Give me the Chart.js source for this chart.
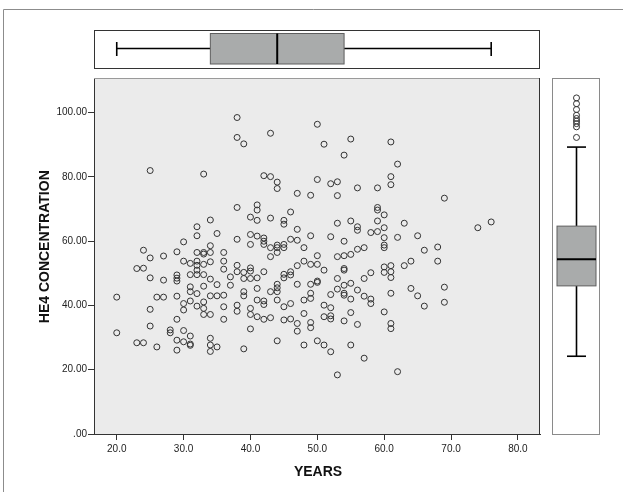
<!DOCTYPE html>
<html>
<head>
<meta charset="utf-8">
<script src="https://cdn.jsdelivr.net/npm/chart.js@4.4.1/dist/chart.umd.min.js"></script>
<style>
html,body{margin:0;padding:0;background:#fff;}
canvas{display:block;}
</style>
</head>
<body>
<canvas id="c" width="623" height="492"></canvas>
<script>
// ---- data ----
const years = [
  // upper cloud (HE4 > 65)
  38,38,39,43,50,25,33,42,43,44, 44,47,49,50,38,41,41,46,40,41, 43,45,34,45,51,55,61,54,62,61, 61,52,53,56,59,53,69,59,59,60, 59,55,53,63,76,
  // ages 20-38
  32,35,32,30,38,24,25,27,29,32, 33,33,34,34,36,23,24,25,27,29, 29,29,30,31,32,32,32,32,33,33,
  31,34,36,36,38,38,37,37,34,35, 33,31,31,32,34,35,36,20,26,27, 29,30,30,31,32,33,33,33,34,36,
  36,38,38,25,29,25,20,28,28,30, 31,23,24,26,29,30,31,31,34,34, 35,29,34,
  // ages 39-58
  47,56,56,58,40,41,42,42,42,40, 43,44,44,45,45,46,47,49,48,43, 44,52,54,56,57,53,54,55,50,48,
  49,50,47,51,54,54,58,57,53,40, 40,42,39,41,45,45,46,46,47,49, 50,50,40,39,41,44,44,44,43,48,
  49,49,52,53,54,54,54,55,55,56, 57,58,58,39,39,41,42,42,44,40, 40,41,42,43,45,46,45,46,47,47,
  48,49,49,51,52,51,52,52,54,55, 56,40,44,48,50,51,55,39,
  // ages 59+ and lowest points
  59,60,74,60,62,65,60,60,66,68, 64,63,68,60,60,61,61,61,64,65, 61,69,69,66,60,61,61,53,62,57, 52
];
const he4 = [
  98.5,92.3,90.3,93.6,96.4,82.0,80.9,80.4,80.1,78.4, 76.4,74.9,74.3,79.2,70.5,71.3,69.7,69.1,67.5,66.5,
  67.2,66.5,66.6,65.3,90.2,91.8,90.9,86.8,84.0,80.1, 77.6,77.9,78.5,76.6,76.6,74.2,73.4,70.5,69.7,68.2,
  66.3,66.3,65.6,65.6,66.0,
  64.5,62.4,61.7,59.8,60.6,57.2,54.8,55.4,56.7,56.5, 56.5,56.0,58.6,56.5,56.5,51.5,51.6,48.6,47.9,49.5,
  48.5,47.6,53.8,53.1,53.8,52.5,51.0,49.6,52.8,49.6, 49.6,53.6,53.8,51.3,52.5,50.5,48.9,46.3,48.2,46.5,
  46.0,45.8,44.3,43.7,43.0,43.0,43.2,42.6,42.6,42.6, 42.9,40.6,38.6,41.4,39.8,41.1,39.1,37.2,37.2,39.6,
  35.7,40.1,38.2,38.8,35.7,33.6,31.5,32.4,31.5,32.2, 30.5,28.4,28.4,27.1,29.2,28.7,28.0,27.6,29.8,27.7,
  27.1,26.1,25.7,
  63.7,64.5,63.4,62.7,62.1,61.6,61.0,60.0,59.0,59.0, 58.0,58.8,58.0,59.0,58.0,60.6,60.3,61.7,58.0,55.2,
  56.5,61.4,60.0,57.5,58.0,55.2,55.5,55.9,55.5,53.8, 52.8,52.8,52.4,51.0,51.5,51.0,50.2,48.4,48.4,51.7,
  50.7,50.5,50.3,48.6,49.7,48.6,50.5,49.5,46.6,46.6, 47.6,47.2,48.4,48.4,45.3,46.6,45.5,44.3,44.3,41.7,
  42.2,43.8,43.4,45.1,46.3,43.8,43.2,46.9,42.0,44.8, 42.9,42.0,40.6,44.3,43.0,41.7,41.4,40.3,41.7,39.1,
  37.2,36.5,35.7,36.2,39.6,40.6,35.5,35.8,34.4,32.0, 37.5,34.7,33.1,40.1,39.3,36.5,36.8,35.8,35.2,37.8,
  34.1,32.7,29.0,27.7,29.0,27.7,27.7,26.5,
  63.0,64.2,64.2,61.1,61.2,61.7,58.8,58.0,57.2,58.2, 53.8,52.4,53.8,52.0,50.3,52.4,50.5,48.7,45.3,43.0,
  43.8,45.7,41.0,39.8,38.0,34.4,32.8,18.4,19.4,23.6, 25.6
];
const xTicks = [20, 30, 40, 50, 60, 70, 80];
const yTicks = [0, 20, 40, 60, 80, 100];
const xRange = [16.6, 83.3];
const yRange = [0, 110.8];
// marginal box plots: [lower whisker, Q1, median, Q3, upper whisker]
const yearsBoxStats = [20, 34, 44, 54, 76];
const he4BoxStats = [24.2, 46.1, 54.4, 64.7, 89.3];
const he4BoxOutliers = [104.6, 102.8, 101.0, 99.2, 98.2, 97.4, 96.6, 95.6, 92.3];
const xTitle = 'YEARS';
const yTitle = 'HE4 CONCENTRATION';

const FONT = '"Liberation Sans", Arial, Helvetica, sans-serif';
Chart.defaults.font.family = FONT;

function line(ctx, x1, y1, x2, y2) {
  ctx.beginPath(); ctx.moveTo(x1, y1); ctx.lineTo(x2, y2); ctx.stroke();
}

const spssPlugin = {
  id: 'spssFrame',
  beforeDraw(chart) {
    const {ctx, chartArea: a} = chart;
    ctx.save();
    ctx.fillStyle = '#ffffff';
    ctx.fillRect(0, 0, chart.width, chart.height);
    ctx.strokeStyle = '#8c8c8c';
    ctx.lineWidth = 1;
    ctx.beginPath();
    ctx.moveTo(3.5, chart.height + 5);
    ctx.lineTo(3.5, 9.5);
    ctx.lineTo(chart.width + 5, 9.5);
    ctx.stroke();
    ctx.fillStyle = '#ebebeb';
    ctx.fillRect(a.left, a.top, a.right - a.left, a.bottom - a.top);
    ctx.restore();
  },
  afterDraw(chart) {
    const {ctx, chartArea: a} = chart;
    const X = v => chart.scales.x.getPixelForValue(v);
    const Y = v => chart.scales.y.getPixelForValue(v);
    ctx.save();
    // plot frame top / right
    ctx.lineWidth = 1;
    ctx.strokeStyle = '#9a9a9a';
    line(ctx, a.left, Math.round(a.top) + 0.5, a.right, Math.round(a.top) + 0.5);
    ctx.strokeStyle = '#333';
    line(ctx, Math.round(a.right) - 0.5, a.top, Math.round(a.right) - 0.5, a.bottom);

    // ---- top marginal box plot (YEARS) ----
    const tTop = 30.5, tBot = 68.5, bTop = 33.5, bBot = 64, wy = 48.5;
    ctx.strokeStyle = '#333';
    ctx.lineWidth = 1;
    ctx.strokeRect(Math.round(a.left) + 0.5, tTop, Math.round(a.right - a.left) - 1, tBot - tTop);
    const [tw0, tq1, tmed, tq3, tw1] = yearsBoxStats;
    ctx.strokeStyle = '#000';
    ctx.lineWidth = 1.6;
    line(ctx, X(tw0), wy, X(tq1), wy);
    line(ctx, X(tq3), wy, X(tw1), wy);
    line(ctx, X(tw0), 42, X(tw0), 56);
    line(ctx, X(tw1), 42, X(tw1), 56);
    ctx.fillStyle = '#a9abab';
    ctx.fillRect(X(tq1), bTop, X(tq3) - X(tq1), bBot - bTop);
    ctx.strokeStyle = '#5e5e5e';
    ctx.lineWidth = 1;
    ctx.strokeRect(X(tq1), bTop, X(tq3) - X(tq1), bBot - bTop);
    ctx.strokeStyle = '#000';
    ctx.lineWidth = 2;
    line(ctx, X(tmed), bTop, X(tmed), bBot);

    // ---- right marginal box plot (HE4) ----
    const rL = 552.5, rR = 599.5, cx = 576.5, boxL = 557, boxR = 596, capL = 567, capR = 586;
    ctx.strokeStyle = '#8a8a8a';
    ctx.lineWidth = 1;
    ctx.strokeRect(rL, Math.round(a.top) + 0.5, rR - rL, Math.round(a.bottom - a.top));
    const [rw0, rq1, rmed, rq3, rw1] = he4BoxStats;
    ctx.strokeStyle = '#000';
    ctx.lineWidth = 1.6;
    line(ctx, cx, Y(rw0), cx, Y(rq1));
    line(ctx, cx, Y(rq3), cx, Y(rw1));
    line(ctx, capL, Y(rw0), capR, Y(rw0));
    line(ctx, capL, Y(rw1), capR, Y(rw1));
    ctx.fillStyle = '#a9abab';
    ctx.fillRect(boxL, Y(rq3), boxR - boxL, Y(rq1) - Y(rq3));
    ctx.strokeStyle = '#5e5e5e';
    ctx.lineWidth = 1;
    ctx.strokeRect(boxL, Y(rq3), boxR - boxL, Y(rq1) - Y(rq3));
    ctx.strokeStyle = '#000';
    ctx.lineWidth = 2;
    line(ctx, boxL, Y(rmed), boxR, Y(rmed));
    ctx.strokeStyle = '#333';
    ctx.lineWidth = 1;
    he4BoxOutliers.forEach(v => {
      ctx.beginPath(); ctx.arc(cx, Y(v), 3, 0, Math.PI * 2); ctx.stroke();
    });

    // ---- axis titles ----
    ctx.fillStyle = '#111';
    ctx.font = 'bold 14px ' + FONT;
    ctx.textAlign = 'center';
    ctx.textBaseline = 'middle';
    ctx.fillText(xTitle, (a.left + a.right) / 2 + 1, 472.5);
    ctx.translate(45, a.top + (a.bottom - a.top) * 0.474);
    ctx.rotate(-Math.PI / 2);
    ctx.fillText(yTitle, 0, 0);
    ctx.restore();
  }
};

new Chart(document.getElementById('c'), {
  type: 'scatter',
  data: {
    datasets: [{
      data: years.map((x, i) => ({x: x, y: he4[i]})),
      pointRadius: 3,
      pointHoverRadius: 3,
      pointBorderWidth: 1,
      pointBorderColor: '#333',
      pointBackgroundColor: 'rgba(0,0,0,0)'
    }]
  },
  options: {
    responsive: false,
    animation: false,
    events: [],
    layout: {padding: {top: 78, right: 83, left: 0, bottom: 0}},
    plugins: {legend: {display: false}, tooltip: {enabled: false}},
    scales: {
      x: {
        type: 'linear',
        min: xRange[0], max: xRange[1],
        afterBuildTicks: s => { s.ticks = xTicks.map(v => ({value: v})); },
        afterFit: s => { s.height = 58; },
        ticks: {
          callback: v => Number(v).toFixed(1),
          font: {size: 10}, color: '#222', padding: 3, maxRotation: 0, autoSkip: false
        },
        grid: {drawOnChartArea: false, drawTicks: true, tickLength: 6, color: '#333', lineWidth: 1},
        border: {display: true, color: '#333', width: 1}
      },
      y: {
        type: 'linear',
        min: yRange[0], max: yRange[1],
        afterBuildTicks: s => { s.ticks = yTicks.map(v => ({value: v})); },
        afterFit: s => { s.width = 94; },
        ticks: {
          callback: v => (v === 0 ? '.00' : Number(v).toFixed(2)),
          font: {size: 10}, color: '#222', padding: 1, autoSkip: false
        },
        grid: {drawOnChartArea: false, drawTicks: true, tickLength: 6, color: '#333', lineWidth: 1},
        border: {display: true, color: '#333', width: 1}
      }
    }
  },
  plugins: [spssPlugin]
});
</script>
</body>
</html>
